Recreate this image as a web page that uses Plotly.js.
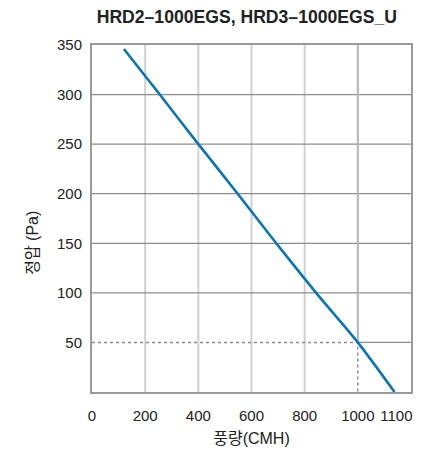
<!DOCTYPE html>
<html><head><meta charset="utf-8">
<script src="https://cdn.plot.ly/plotly-3.0.1.min.js"></script>
<style>html,body{margin:0;padding:0;background:#fff}#chart{width:427px;height:454px}</style>
</head><body><div id="chart"></div>
<script>
// Data
const flow = [120, 255, 400, 548, 693, 843, 1000, 1138];
const pressure = [346, 300, 250, 200, 150, 100, 50, 0];
const xTickVals = [0, 200, 400, 600, 800, 1000, 1145];
const xTickText = ['0', '200', '400', '600', '800', '1000', '1100'];
const yTickVals = [50, 100, 150, 200, 250, 300, 350];
const xGrid = [200, 400, 600, 800];
const yGrid = [100, 150, 200, 250, 300];
const opPoint = {x: 1000, y: 50};
const refX = [0, opPoint.x, opPoint.x];
const refY = [opPoint.y, opPoint.y, 0];
const xMax = 1200, yMax = 350;

const FONT = 'Liberation Sans, Arial, Noto Sans CJK KR, sans-serif';
const shapes = [];
xGrid.forEach(v => shapes.push({type:'line', xref:'x', yref:'y', x0:v, x1:v, y0:0, y1:yMax, layer:'below', line:{color:'#d0d0d0', width:2}}));
yGrid.forEach(v => shapes.push({type:'line', xref:'x', yref:'y', x0:0, x1:xMax, y0:v, y1:v, layer:'below', line:{color:'#8c8c8c', width:1.2}}));
shapes.push({type:'line', xref:'x', yref:'y', x0:opPoint.x, x1:opPoint.x, y0:opPoint.y, y1:yMax, layer:'below', line:{color:'#b5b5b5', width:2}});
shapes.push({type:'line', xref:'x', yref:'y', x0:opPoint.x, x1:xMax, y0:opPoint.y, y1:opPoint.y, layer:'below', line:{color:'#8c8c8c', width:1.2}});

const traces = [
  {x: refX, y: refY, mode:'lines', line:{color:'#8a8a8a', width:1.5, dash:'dot'}, hoverinfo:'skip', showlegend:false},
  {x: flow, y: pressure, mode:'lines', line:{color:'#0b73b9', width:2.6, shape:'spline', smoothing:0.6}, showlegend:false}
];

const layout = {
  width: 427, height: 454,
  margin: {l: 92, r: 16, t: 45, b: 62},
  paper_bgcolor: '#fff', plot_bgcolor: '#fff',
  font: {family: FONT, color: '#222', size: 15},
  title: {text: '<b>HRD2–1000EGS, HRD3–1000EGS_U</b>', font:{size:17.6, color:'#222', family: FONT}, x: 0.578, xanchor:'center', y: 0.962, yanchor:'middle'},
  xaxis: {range:[0, xMax], tickmode:'array', tickvals:xTickVals, ticktext:xTickText, showgrid:false, zeroline:false,
          showline:true, mirror:true, linecolor:'#9a9a9a', linewidth:2, ticks:'outside', ticklen:9, tickcolor:'rgba(0,0,0,0)',
          tickfont:{size:15, color:'#222'},
          title:{text:'풍량(CMH)', font:{size:16, color:'#222'}, standoff:10}},
  yaxis: {range:[0, yMax], tickmode:'array', tickvals:yTickVals, showgrid:false, zeroline:false,
          showline:true, mirror:true, linecolor:'#9a9a9a', linewidth:2, ticks:'outside', ticklen:5, tickcolor:'rgba(0,0,0,0)',
          tickfont:{size:15, color:'#222'}},
  annotations: [{text:'정압 (Pa)', xref:'paper', yref:'paper', x:-0.185, y:0.43, xanchor:'center', yanchor:'middle', textangle:-90, showarrow:false, font:{size:16, color:'#222'}}],
  shapes: shapes
};
Plotly.newPlot('chart', traces, layout, {staticPlot:true, displayModeBar:false});
</script></body></html>
